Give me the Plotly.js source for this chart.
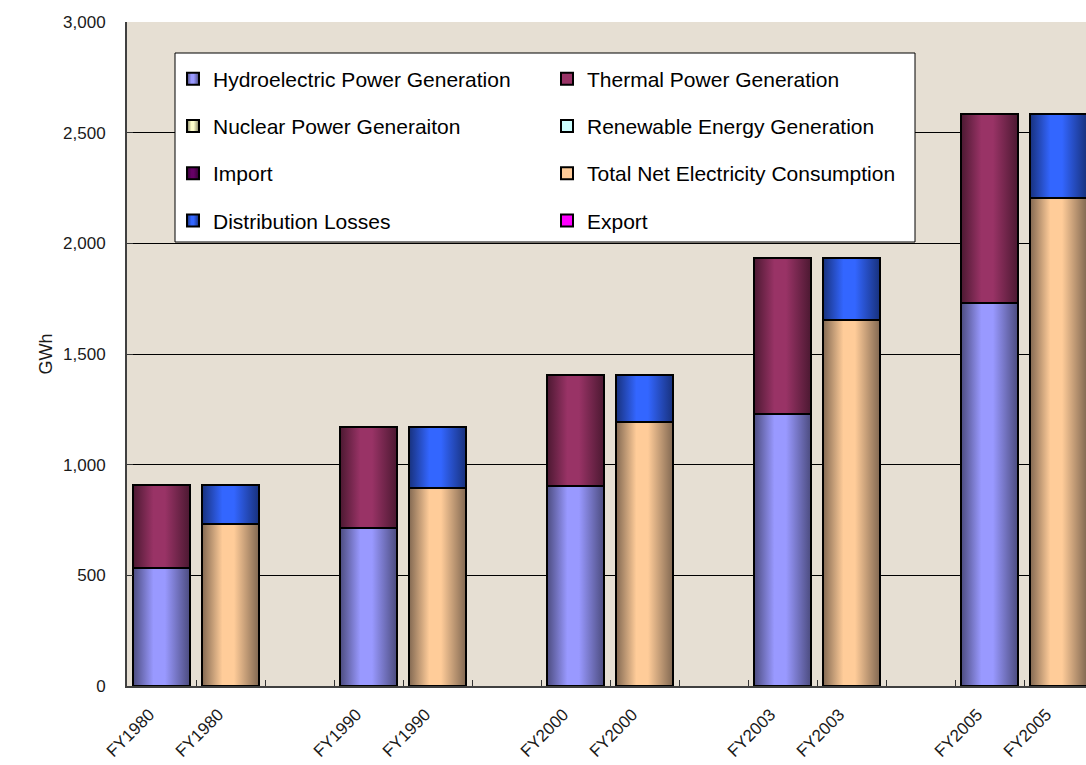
<!DOCTYPE html>
<html>
<head>
<meta charset="utf-8">
<script src="https://cdn.plot.ly/plotly-3.0.1.min.js"></script>
<style>
  html, body { margin: 0; padding: 0; background: #ffffff; overflow: hidden; }
  #chart { width: 1095px; height: 765px; }
</style>
</head>
<body>
<div id="chart"></div>
<script>
// Electricity supply and demand balance, GWh
const categories = ['FY1980', 'FY1990', 'FY2000', 'FY2003', 'FY2005'];

// Supply side (left bar of each pair)
const hydro     = [534, 715, 904, 1230, 1729];
const thermal   = [372, 454, 500, 705, 857];
const nuclear   = [0, 0, 0, 0, 0];
const renewable = [0, 0, 0, 0, 0];
const imports   = [0, 0, 0, 0, 0];

// Demand side (right bar of each pair)
const consumption = [732, 896, 1194, 1655, 2206];
const losses      = [174, 273, 210, 280, 380];
const exports     = [0, 0, 0, 0, 0];

const yTicks = [0, 500, 1000, 1500, 2000, 2500, 3000];

// Each year takes three slots: supply bar, demand bar, empty spacer
const supplyX = categories.map((_, i) => 3 * i);
const demandX = categories.map((_, i) => 3 * i + 1);
const tickVals = categories.flatMap((_, i) => [3 * i, 3 * i + 1]);
const tickText = categories.flatMap(c => [c, c]);
const slotEdges = [];
for (let k = 0; k < 3 * categories.length - 2; k++) slotEdges.push(k + 0.5);

// [edge shade, highlight] for the cylinder-like fills
const shading = [
  ['#4a4a7c', '#9999ff'],  // hydro
  ['#4a1830', '#993366'],  // thermal
  ['#807f60', '#ffffcc'],  // nuclear
  ['#668080', '#ccffff'],  // renewable
  ['#330033', '#660066'],  // import
  ['#7f6650', '#ffcc99'],  // consumption
  ['#17307a', '#3366ff'],  // losses
  ['#800080', '#ff00ff']   // export
];

const outline = { color: '#000000', width: 2 };

function barTrace(name, x, y, color, legend, group) {
  return {
    type: 'bar', name: name, x: x, y: y,
    marker: { color: color, line: outline },
    legend: legend, legendgroup: group,
    hoverinfo: 'skip'
  };
}

const traces = [
  barTrace('Hydroelectric Power Generation', supplyX, hydro, shading[0][1], 'legend', 'g1'),
  barTrace('Thermal Power Generation', supplyX, thermal, shading[1][1], 'legend2', 'g2'),
  barTrace('Nuclear Power Generaiton', supplyX, nuclear, shading[2][1], 'legend', 'g3'),
  barTrace('Renewable Energy Generation', supplyX, renewable, shading[3][1], 'legend2', 'g4'),
  barTrace('Import', supplyX, imports, shading[4][1], 'legend', 'g5'),
  barTrace('Total Net Electricity Consumption', demandX, consumption, shading[5][1], 'legend2', 'g6'),
  barTrace('Distribution Losses', demandX, losses, shading[6][1], 'legend', 'g7'),
  barTrace('Export', demandX, exports, shading[7][1], 'legend2', 'g8')
];

const fontFamily = 'Arial, "Liberation Sans", sans-serif';

const legendBase = {
  xanchor: 'left', yanchor: 'top', y: 0.945,
  bgcolor: 'rgba(0,0,0,0)', borderwidth: 0,
  font: { family: fontFamily, size: 21, color: '#000000' },
  traceorder: 'grouped', tracegroupgap: 17,
  itemclick: false, itemdoubleclick: false
};

const layout = {
  width: 1095, height: 765,
  margin: { l: 127, r: 2, t: 22, b: 79 },
  paper_bgcolor: '#ffffff',
  plot_bgcolor: '#e6dfd3',
  font: { family: fontFamily, size: 17, color: '#1a1a1a' },
  barmode: 'stack',
  bargap: 0.16,
  showlegend: true,
  legend: Object.assign({}, legendBase, { x: (173 - 127) / 966 }),
  legend2: Object.assign({}, legendBase, { x: (547 - 127) / 966 }),
  xaxis: {
    range: [-0.5, 3 * categories.length - 1.5],
    tickmode: 'array', tickvals: tickVals, ticktext: tickText,
    tickangle: -45, ticks: '',
    ticklabelstandoff: 10, ticklabelshift: -12,
    tickfont: { family: fontFamily, size: 17, color: '#1a1a1a' },
    minor: { tickmode: 'array', tickvals: slotEdges, ticks: 'inside', ticklen: 6, tickwidth: 1, tickcolor: '#333333', showgrid: false },
    showline: true, linecolor: '#404040', linewidth: 2,
    showgrid: false, zeroline: false, fixedrange: true
  },
  yaxis: {
    range: [0, 3000],
    tickmode: 'array', tickvals: yTicks, tickformat: ',d',
    ticks: 'inside', ticklen: 6, tickcolor: '#333333',
    ticklabelstandoff: 16,
    tickfont: { family: fontFamily, size: 17, color: '#1a1a1a' },
    showline: true, linecolor: '#404040', linewidth: 2,
    showgrid: true, gridcolor: '#000000', gridwidth: 1,
    zeroline: false, fixedrange: true,
    title: { text: 'GWh', font: { family: fontFamily, size: 18, color: '#1a1a1a' }, standoff: 6 }
  },
  shapes: [{
    type: 'rect', xref: 'paper', yref: 'paper', layer: 'above',
    x0: (175 - 127) / 966, x1: (915 - 127) / 966,
    y0: (686 - 242) / 664, y1: (686 - 53) / 664,
    fillcolor: '#ffffff', line: { color: '#000000', width: 1 }
  }]
};

// Give bars and legend swatches a rounded, cylinder-like horizontal shading
function applyShading(gd) {
  const ns = 'http://www.w3.org/2000/svg';
  const svg = gd.querySelector('.main-svg');
  let defs = svg.querySelector('defs');
  if (!defs) { defs = document.createElementNS(ns, 'defs'); svg.insertBefore(defs, svg.firstChild); }
  shading.forEach((pair, i) => {
    const grad = document.createElementNS(ns, 'linearGradient');
    grad.setAttribute('id', 'cyl' + i);
    grad.setAttribute('x1', '0'); grad.setAttribute('y1', '0');
    grad.setAttribute('x2', '1'); grad.setAttribute('y2', '0');
    [[0, pair[0]], [0.36, pair[1]], [0.56, pair[1]], [1, pair[0]]].forEach(([off, col]) => {
      const stop = document.createElementNS(ns, 'stop');
      stop.setAttribute('offset', off);
      stop.setAttribute('stop-color', col);
      grad.appendChild(stop);
    });
    defs.appendChild(grad);
  });
  gd.querySelectorAll('.barlayer .trace').forEach(el => {
    const cd = el.__data__;
    if (!cd || !cd[0] || !cd[0].trace) return;
    const idx = cd[0].trace.index;
    el.querySelectorAll('path').forEach(p => { p.style.fill = 'url(#cyl' + idx + ')'; });
  });
  gd.querySelectorAll('.legend .traces').forEach(el => {
    const d = el.__data__;
    if (!d || !d[0] || !d[0].trace) return;
    const idx = d[0].trace.index;
    el.querySelectorAll('.legendpoints path').forEach(p => { p.style.fill = 'url(#cyl' + idx + ')'; });
  });
}

Plotly.newPlot('chart', traces, layout, { displayModeBar: false, staticPlot: true })
  .then(applyShading);
</script>
</body>
</html>
